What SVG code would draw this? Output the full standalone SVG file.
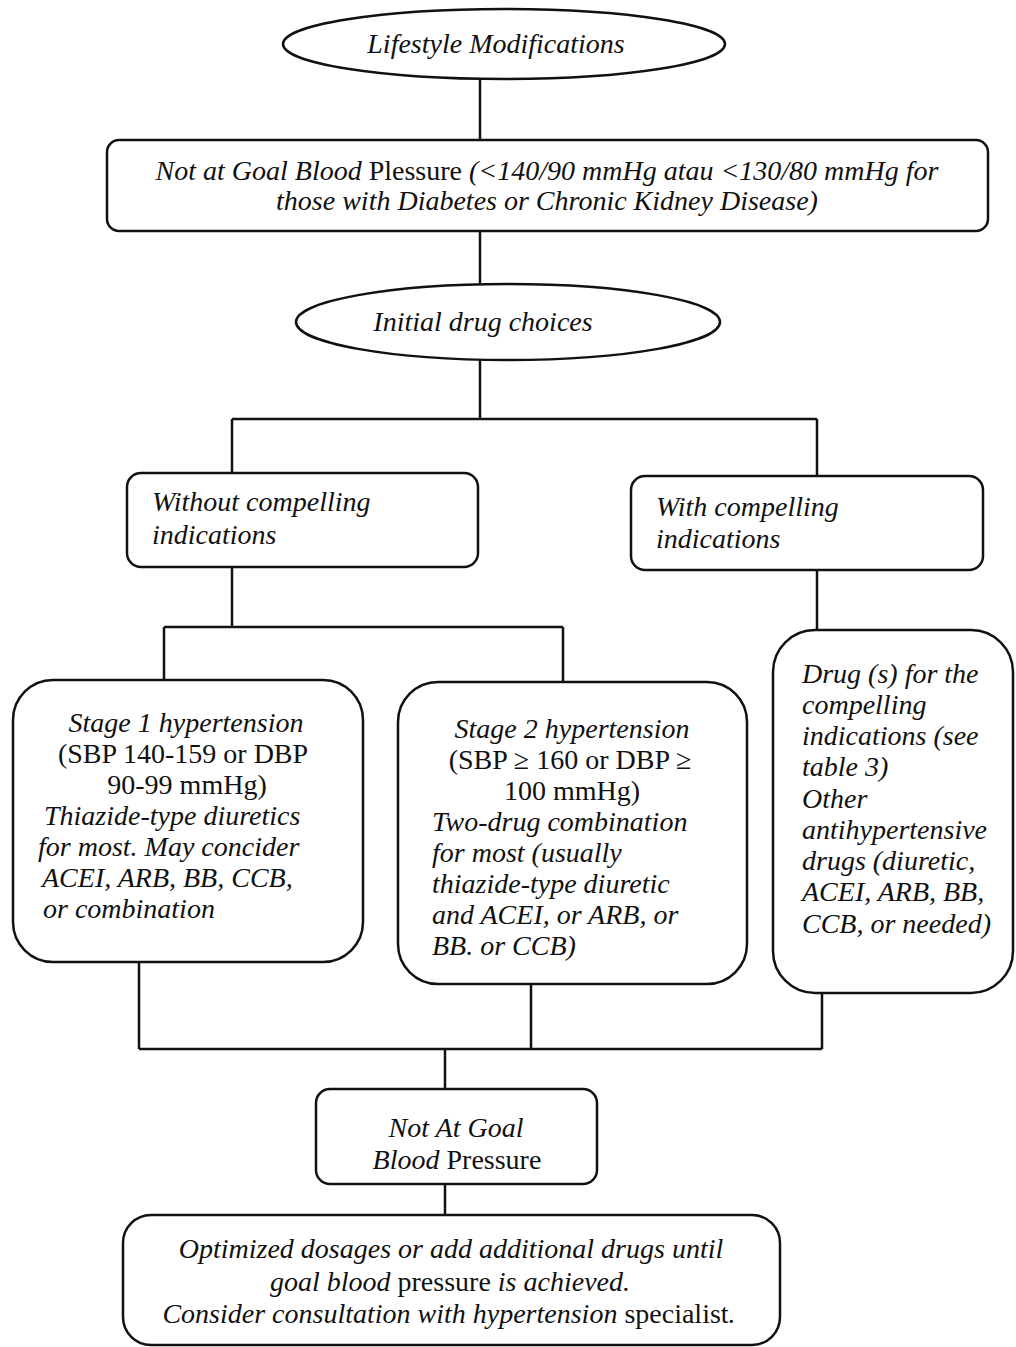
<svg xmlns="http://www.w3.org/2000/svg" width="1016" height="1347" viewBox="0 0 1016 1347">
<style>
.n{fill:#fff;stroke:#111;stroke-width:2.5}
.c{fill:none;stroke:#111;stroke-width:2.5}
text{font-family:"Liberation Serif","Times New Roman",serif;font-size:28px;fill:#111;font-style:italic}
.r{font-style:normal}
.m{text-anchor:middle}
</style>
<rect width="1016" height="1347" fill="#fff"/>
<g id="connectors">
<path class="c" d="M480 79V141M480 231V285M480 360V419M232 419H817M232 419V473M817 419V476M232 567V627M164 627H563M164 627V680M563 627V682M817 570V630M139 962V1049M531 984V1049M822 993V1049M139 1049H822M445 1049V1089M445 1184V1215"/>
</g>
<g id="lifestyle">
<ellipse class="n" cx="504" cy="44" rx="221" ry="35"/>
<text class="m" x="496" y="53">Lifestyle Modifications</text>
</g>
<g id="not-at-goal-1">
<rect class="n" x="107" y="140" width="881" height="91" rx="12"/>
<text class="m" x="547" y="180">Not at Goal Blood <tspan class="r">Plessure</tspan> (&lt;140/90 mmHg atau &lt;130/80 mmHg for</text>
<text class="m" x="547" y="210">those with Diabetes or Chronic Kidney Disease)</text>
</g>
<g id="initial">
<ellipse class="n" cx="508" cy="322" rx="212" ry="38"/>
<text class="m" x="483" y="331">Initial drug choices</text>
</g>
<g id="without">
<rect class="n" x="127" y="473" width="351" height="94" rx="14"/>
<text x="152" y="511">Without compelling</text>
<text x="152" y="544">indications</text>
</g>
<g id="with">
<rect class="n" x="631" y="476" width="352" height="94" rx="14"/>
<text x="656" y="516">With compelling</text>
<text x="656" y="548">indications</text>
</g>
<g id="stage1">
<rect class="n" x="13" y="680" width="350" height="282" rx="40"/>
<text class="m" x="186" y="732">Stage 1 hypertension</text>
<text class="m r" x="183" y="763">(SBP 140-159 or DBP</text>
<text class="m r" x="187" y="794">90-99 mmHg)</text>
<text x="44" y="825">Thiazide-type diuretics</text>
<text x="38" y="856">for most. May concider</text>
<text x="42" y="887">ACEI, ARB, BB, CCB,</text>
<text x="43" y="918">or combination</text>
</g>
<g id="stage2">
<rect class="n" x="398" y="682" width="349" height="302" rx="40"/>
<text class="m" x="572" y="738">Stage 2 hypertension</text>
<text class="m r" x="570" y="769">(SBP ≥ 160 or DBP  ≥</text>
<text class="m r" x="572" y="800">100 mmHg)</text>
<text x="432" y="831">Two-drug combination</text>
<text x="432" y="862">for most (usually</text>
<text x="432" y="893">thiazide-type diuretic</text>
<text x="432" y="924">and ACEI, or ARB, or</text>
<text x="432" y="955">BB. or CCB)</text>
</g>
<g id="compelling-drugs">
<rect class="n" x="773" y="630" width="240" height="363" rx="42"/>
<text x="802" y="683">Drug (s) for the</text>
<text x="802" y="714">compelling</text>
<text x="802" y="745">indications (see</text>
<text x="802" y="776">table 3)</text>
<text x="802" y="808">Other</text>
<text x="802" y="839">antihypertensive</text>
<text x="802" y="870">drugs (diuretic,</text>
<text x="802" y="901">ACEI, ARB, BB,</text>
<text x="802" y="933">CCB, or needed)</text>
</g>
<g id="not-at-goal-2">
<rect class="n" x="316" y="1089" width="281" height="95" rx="14"/>
<text class="m" x="456" y="1137">Not At Goal</text>
<text class="m" x="457" y="1169">Blood <tspan class="r">Pressure</tspan></text>
</g>
<g id="optimize">
<rect class="n" x="123" y="1215" width="657" height="130" rx="28"/>
<text class="m" x="451" y="1258">Optimized dosages or add additional drugs until</text>
<text class="m" x="450" y="1291">goal blood <tspan class="r">pressure</tspan> is achieved.</text>
<text class="m" x="449" y="1323">Consider consultation with hypertension <tspan class="r">specialist</tspan>.</text>
</g>
</svg>
